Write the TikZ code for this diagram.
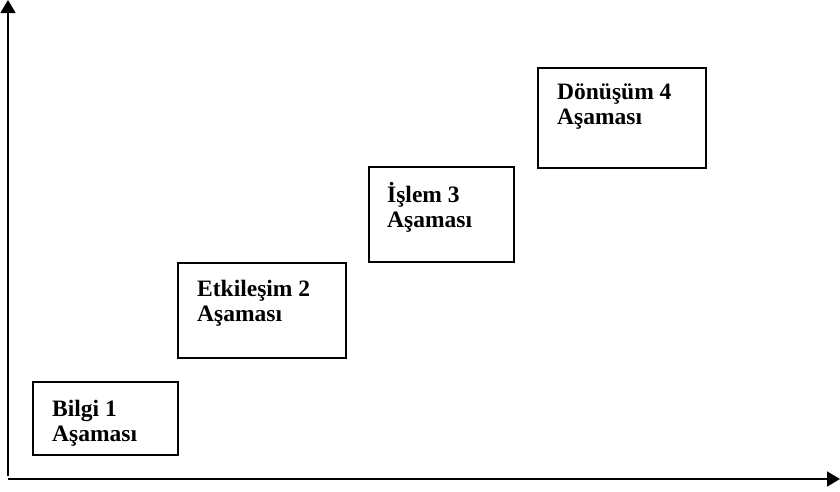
\documentclass[tikz,border=0pt]{standalone}
\usepackage{fontspec}
\setmainfont{Liberation Serif}
\usetikzlibrary{arrows.meta}
\begin{document}
\begin{tikzpicture}[x=1pt,y=-1pt,
  stage/.style={draw=black,line width=1.6pt,anchor=north west,inner sep=0pt},
  lbl/.style={anchor=base west,inner sep=0pt,font=\fontsize{23.5}{25}\selectfont\bfseries},
  axis/.style={line width=1.8pt,-{Triangle[length=13pt,width=15pt]}}]
\useasboundingbox (0,0) rectangle (840,491);
% axes
\coordinate (yb) at (8,476);
\coordinate (yt) at (8,0);
\coordinate (xl) at (8,479);
\coordinate (xr) at (840,479);
\draw[axis] (yb) -- (yt);
\draw[axis] (xl) -- (xr);
% boxes
\node[stage,minimum width=145pt,minimum height=73pt] (b1) at (32,381) {};
\node[stage,minimum width=168pt,minimum height=95pt] (b2) at (177,262) {};
\node[stage,minimum width=145pt,minimum height=95pt] (b3) at (368,166) {};
\node[stage,minimum width=168pt,minimum height=100pt] (b4) at (537,67) {};
% labels
\node[lbl] (t1) at (52,416) {\begin{tabular}[t]{@{}l@{}}Bilgi 1\\Aşaması\end{tabular}};
\node[lbl] (t2) at (197,296) {\begin{tabular}[t]{@{}l@{}}Etkileşim 2\\Aşaması\end{tabular}};
\node[lbl] (t3) at (387,202) {\begin{tabular}[t]{@{}l@{}}İşlem 3\\Aşaması\end{tabular}};
\node[lbl] (t4) at (557,99) {\begin{tabular}[t]{@{}l@{}}Dönüşüm 4\\Aşaması\end{tabular}};
\end{tikzpicture}
\end{document}
